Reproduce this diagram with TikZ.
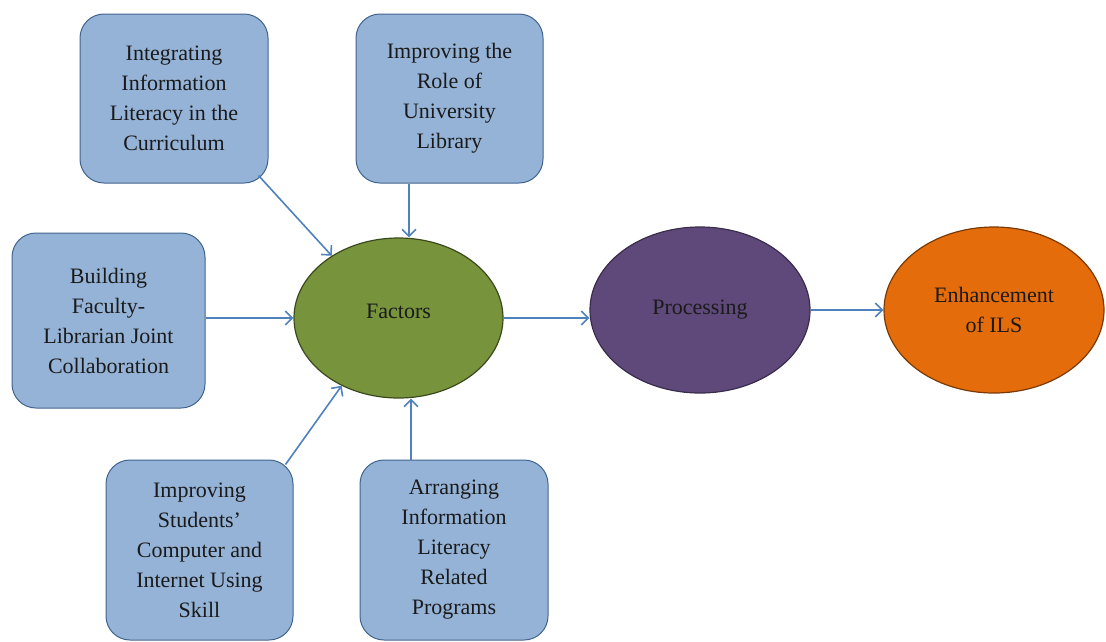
\documentclass[tikz,border=0pt]{standalone}
\usepackage{fontspec}
\setmainfont{Liberation Serif}
\usetikzlibrary{arrows.meta,shapes.geometric,calc}
\definecolor{boxfill}{HTML}{95B3D7}
\definecolor{boxline}{HTML}{41648F}
\definecolor{arrowblue}{HTML}{4F81BD}
\definecolor{factorgreen}{HTML}{77933C}
\definecolor{factorline}{HTML}{3B4A1D}
\definecolor{procpurple}{HTML}{5F497A}
\definecolor{procline}{HTML}{3A2C4B}
\definecolor{ilsorange}{HTML}{E46C0A}
\definecolor{ilsline}{HTML}{7A3A06}
\definecolor{textdark}{HTML}{1A1A1A}
\begin{document}
\begin{tikzpicture}[x=1pt, y=-1pt,
  factorbox/.style={draw=boxline, fill=boxfill, line width=1pt, rounded corners=24pt, inner sep=0pt, align=center, font=\fontsize{22}{30}\selectfont, text=textdark},
  stage/.style={ellipse, line width=1.2pt, inner sep=0pt, align=center, font=\fontsize{22}{30}\selectfont, text=textdark},
  link/.style={draw=arrowblue, line width=1.6pt, -{Straight Barb[length=7pt,width=14pt]}}]
\useasboundingbox (0,0) rectangle (1106,641);
% factor boxes
\node[factorbox, minimum width=188pt, minimum height=169pt] (integ) at (174,98.5) {Integrating\\Information\\Literacy in the\\Curriculum};
\node[factorbox, minimum width=187pt, minimum height=169pt] (role) at (449.5,98.5) {Improving the\\Role of\\University\\Library};
\node[factorbox, minimum width=193pt, minimum height=175pt] (build) at (108.5,320.5) {Building\\Faculty-\\Librarian Joint\\Collaboration};
\node[factorbox, minimum width=187pt, minimum height=180pt] (skill) at (199.5,550) {Improving\\Students’\\Computer and\\Internet Using\\Skill};
\node[factorbox, minimum width=188pt, minimum height=180pt] (progs) at (454,550) {Arranging\\Information\\Literacy\\Related\\Programs};
% stages
\node[stage, draw=factorline, fill=factorgreen, minimum width=209pt, minimum height=160pt, text depth=14pt] (factors) at (398.5,318) {Factors};
\node[stage, draw=procline, fill=procpurple, minimum width=220pt, minimum height=166pt] (proc) at (700,310) {Processing};
\node[stage, draw=ilsline, fill=ilsorange, minimum width=220pt, minimum height=166pt] (ils) at (994,310) {Enhancement\\of ILS};
% arrows
\draw[link] ($(integ.south east)+(-10,-8)$) -- (factors.137);
\draw[link] ($(role.south)+(-40.5,0)$) -- ($(factors.north)+(10.5,0)$);
\draw[link] (build.east |- factors.west) -- (factors.west);
\draw[link] ($(skill.north east)+(-8,5)$) -- (factors.230);
\draw[link] ($(progs.north)+(-43,0)$) -- ($(factors.south)+(12.5,0)$);
\draw[link] (factors.east) -- (factors.east -| proc.west);
\draw[link] (proc.east) -- (ils.west);
\end{tikzpicture}
\end{document}
